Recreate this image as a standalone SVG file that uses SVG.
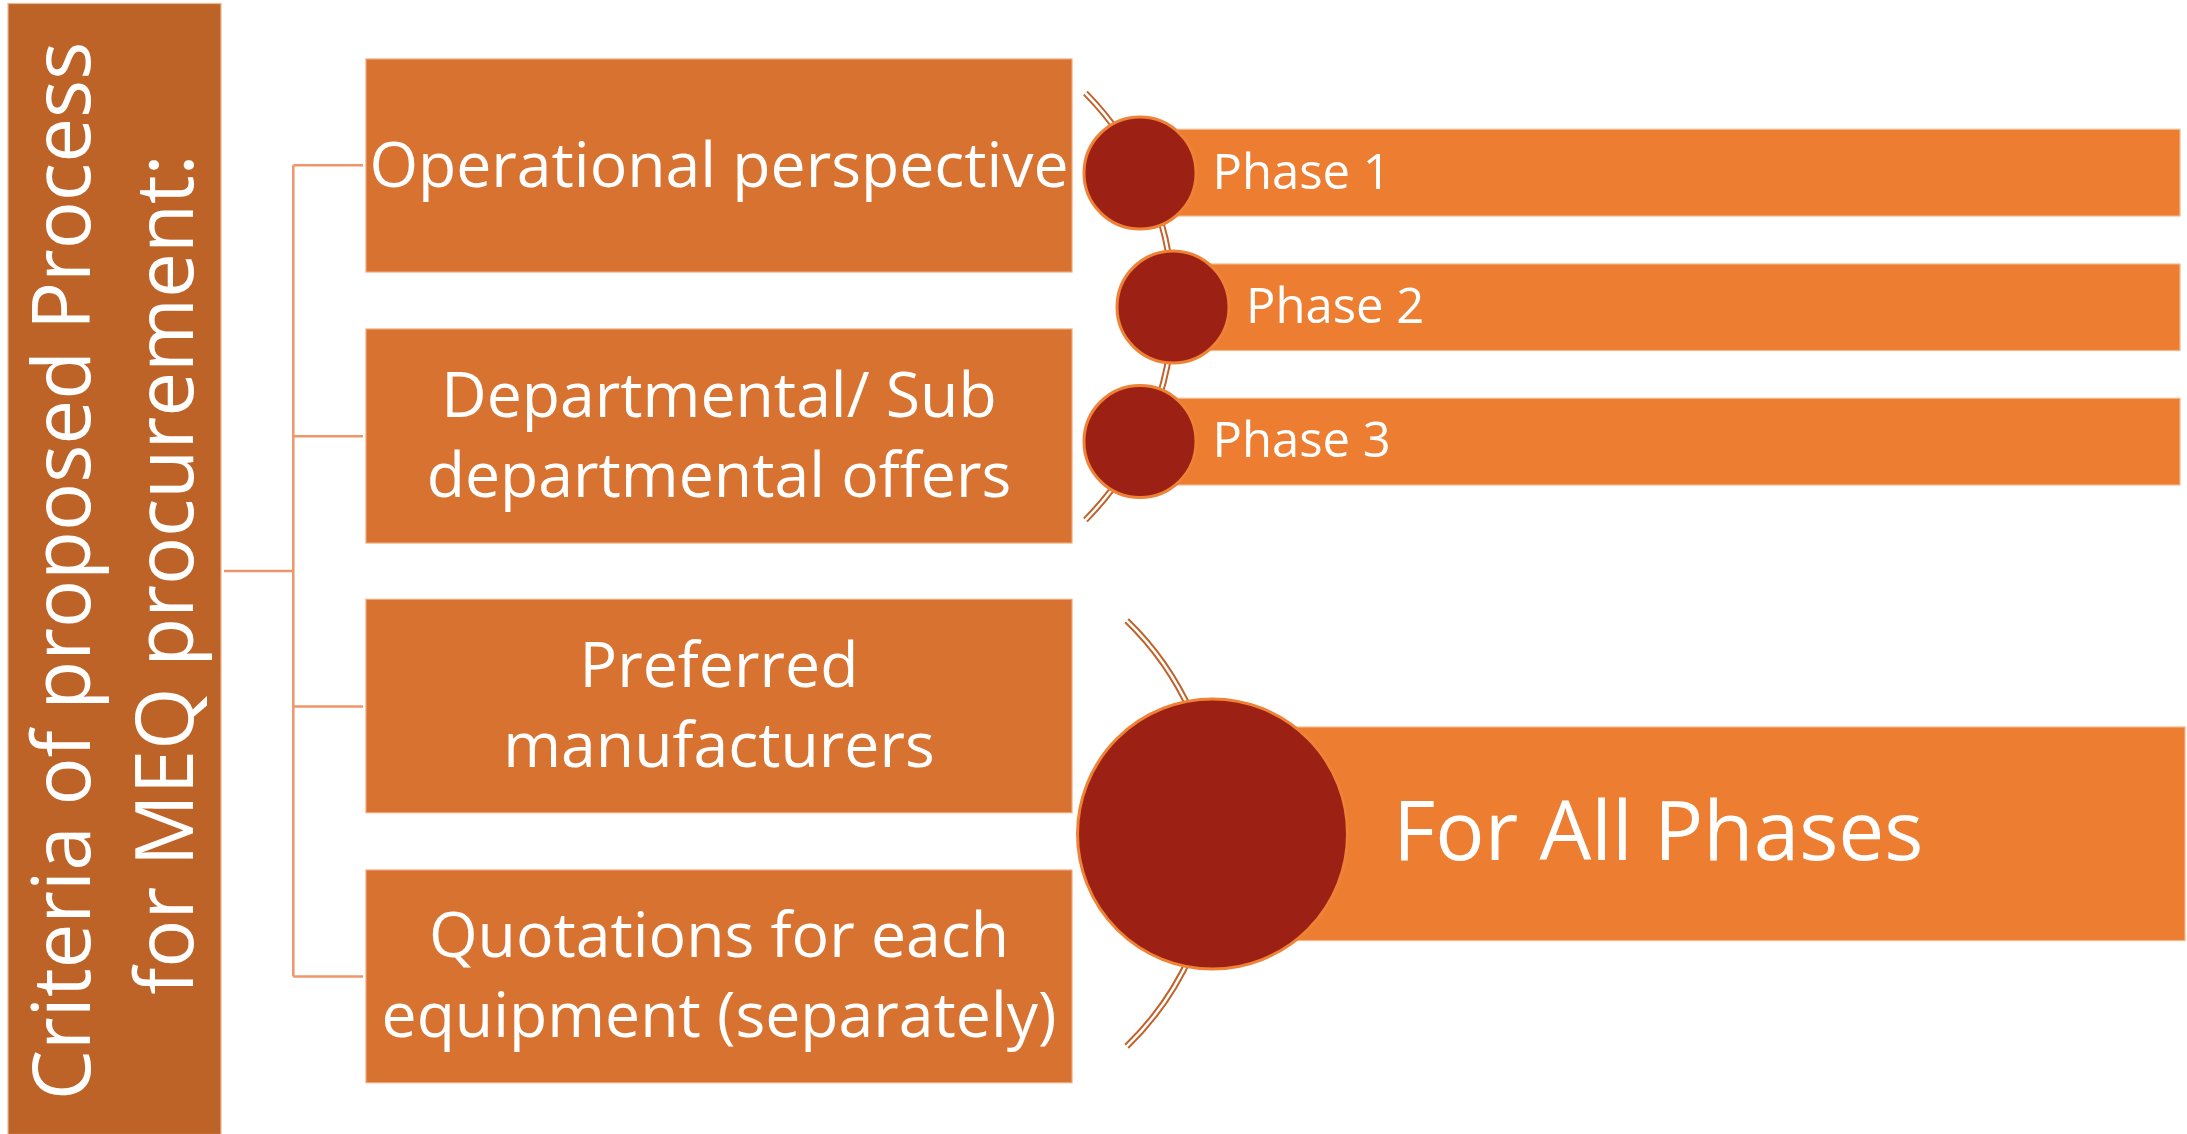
<svg xmlns="http://www.w3.org/2000/svg" width="2187" height="1134" viewBox="0 0 2187 1134">
  <style>
    .lbl { font-family: "Open Sans", "Noto Sans", "Liberation Sans", sans-serif; fill: #FFFFFF; }
    .box { fill: #D87230; stroke: #F2A877; stroke-width: 1.2; }
    .bar { fill: #ED7D31; stroke: #F6B68A; stroke-width: 1.2; }
    .dot { fill: #9D2015; stroke: #EE8236; stroke-width: 3; }
    .wire { fill: none; stroke: #F0956A; stroke-width: 2.5; }
    .rail { fill: none; stroke: #C0622A; stroke-width: 6.5; }
    .rail-in { fill: none; stroke: #FFFFFF; stroke-width: 2.5; }
  </style>

  <rect width="2187" height="1134" fill="#FFFFFF"/>

  <!-- title column -->
  <g id="title">
    <rect x="8" y="3.5" width="213" height="1131" fill="#BD6328" stroke="#E9B894" stroke-width="1.2"/>
    <text class="lbl" font-size="80" text-anchor="middle" transform="translate(89.5 571) rotate(-90)">Criteria of proposed Process</text>
    <text class="lbl" font-size="80" text-anchor="middle" transform="translate(192.5 574.5) rotate(-90)">for MEQ procurement:</text>
  </g>

  <!-- bracket connecting title to the criteria -->
  <g id="connectors">
    <path class="wire" d="M224 571 H293.3"/>
    <path class="wire" d="M293.3 165.3 V976.5"/>
    <path class="wire" d="M293.3 165.3 H363"/>
    <path class="wire" d="M293.3 436.3 H363"/>
    <path class="wire" d="M293.3 706.4 H363"/>
    <path class="wire" d="M293.3 976.5 H363"/>
  </g>

  <!-- criteria boxes -->
  <g id="criterion-operational">
    <rect class="box" x="366" y="59" width="706" height="213"/>
    <text class="lbl" font-size="62.5" text-anchor="middle" x="719" y="186.7">Operational perspective</text>
  </g>
  <g id="criterion-departmental">
    <rect class="box" x="366" y="329" width="706" height="214"/>
    <text class="lbl" font-size="62.5" text-anchor="middle" x="719" y="417">Departmental/ Sub</text>
    <text class="lbl" font-size="62.5" text-anchor="middle" x="719" y="497">departmental offers</text>
  </g>
  <g id="criterion-manufacturers">
    <rect class="box" x="366" y="599.3" width="706" height="213.4"/>
    <text class="lbl" font-size="62.5" text-anchor="middle" x="719" y="687.3">Preferred</text>
    <text class="lbl" font-size="62.5" text-anchor="middle" x="719" y="766.7">manufacturers</text>
  </g>
  <g id="criterion-quotations">
    <rect class="box" x="366" y="870" width="706" height="212.7"/>
    <text class="lbl" font-size="62.5" text-anchor="middle" x="719" y="957.3">Quotations for each</text>
    <text class="lbl" font-size="62.5" text-anchor="middle" x="719" y="1036.7">equipment (separately)</text>
  </g>

  <!-- curved rails behind the phase markers -->
  <g id="rails">
    <path class="rail" d="M1085.4 93 A304 304 0 0 1 1085.4 520"/>
    <path class="rail-in" d="M1085.4 93 A304 304 0 0 1 1085.4 520"/>
    <path class="rail" d="M1126.7 620.7 A296 296 0 0 1 1126.7 1046.3"/>
    <path class="rail-in" d="M1126.7 620.7 A296 296 0 0 1 1126.7 1046.3"/>
  </g>

  <!-- phases -->
  <g id="phase-1">
    <rect class="bar" x="1140" y="129.3" width="1040" height="86.7"/>
    <circle class="dot" cx="1140" cy="173" r="56"/>
    <text class="lbl" font-size="49" x="1212.5" y="189.3">Phase 1</text>
  </g>
  <g id="phase-2">
    <rect class="bar" x="1173" y="264" width="1007" height="86.5"/>
    <circle class="dot" cx="1173" cy="307" r="56"/>
    <text class="lbl" font-size="49" x="1246" y="323.3">Phase 2</text>
  </g>
  <g id="phase-3">
    <rect class="bar" x="1140" y="398.3" width="1040" height="86.7"/>
    <circle class="dot" cx="1140" cy="441.5" r="56"/>
    <text class="lbl" font-size="49" x="1212.5" y="457.3">Phase 3</text>
  </g>
  <g id="all-phases">
    <rect class="bar" x="1212" y="727" width="973" height="213.5"/>
    <circle class="dot" cx="1212.5" cy="834" r="135"/>
    <text class="lbl" font-size="82" x="1393" y="860">For All Phases</text>
  </g>
</svg>
